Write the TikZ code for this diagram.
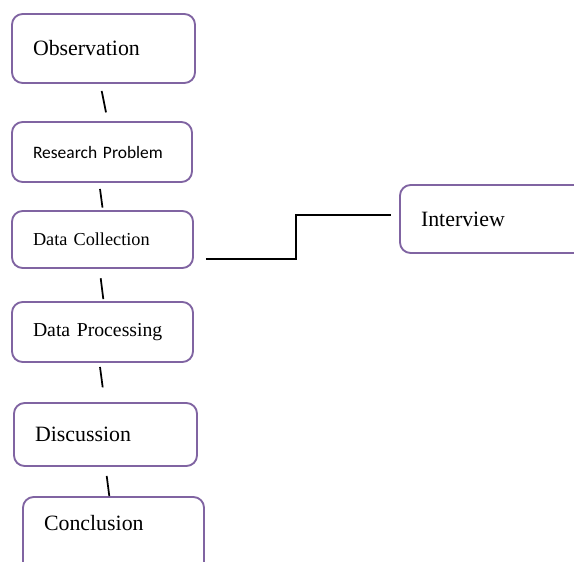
\documentclass[tikz,border=0pt]{standalone}
\usepackage{fontspec}
\setmainfont{Liberation Serif}
\newfontfamily\calibrifont{Carlito}
\usetikzlibrary{calc,positioning}
\definecolor{boxpurple}{RGB}{128,100,162}
\tikzset{
	stage/.style={draw=boxpurple, line width=1.4pt, rounded corners=8pt, fill=white, inner xsep=15.75pt, align=left, font=\fontsize{16.4}{19}\selectfont},
	link/.style={line width=1.3pt, black}
}
\begin{document}
\begin{tikzpicture}[x=0.75pt, y=-0.75pt]
					\fill[white] (0,0) rectangle (574,561);
					\useasboundingbox (0,0) rectangle (574,561);
					\node (obs) at (103.5,48.5) [stage, text width=105.75pt, minimum height=51.75pt] {Observation};
					\node (rp) at (102,152) [stage, text width=103.5pt, minimum height=45pt, font=\calibrifont\fontsize{13.1}{16}\selectfont] {Research Problem};
					\node (dc) at (102.5,239.5) [stage, text width=104.25pt, minimum height=42.75pt, font=\fontsize{13.7}{16}\selectfont] {Data Collection};
					\node (dp) at (102.5,332) [stage, text width=104.25pt, minimum height=45pt, font=\fontsize{14.8}{17}\selectfont] {Data Processing};
					\node (disc) at (105.5,434.5) [stage, text width=105.75pt, minimum height=47.25pt] {Discussion};
					\node (concl) at (113.5,536) [stage, text width=104.25pt, minimum height=58.5pt] {\raisebox{4.1pt}[0pt][0pt]{Conclusion}};
					\node (iv) at (501.5,219) [stage, text width=120.75pt, minimum height=51pt] {Interview};
					
					\draw[link] ($(obs.south)+(-1.8,7)$) -- ($(rp.north)+(4,-8.7)$);
					\draw[link] ($(rp.south)+(-2,6)$) -- ($(dc.north)+(0,-2.5)$);
					\draw[link] ($(dc.south)+(-1.8,9.3)$) -- ($(dp.north)+(0.8,-2)$);
					\draw[link] ($(dp.south)+(-2.5,4)$) -- ($(disc.north)+(-2.8,-14.7)$);
					\draw[link] ($(disc.south)+(1.2,9)$) -- ($(concl.north)+(-4.2,0)$);
					
					\coordinate (dcout) at ($(dc.east)+(12,19.5)$);
					\coordinate (ivin) at ($(iv.west)+(-8,-4)$);
					\coordinate (bend) at ($(ivin)+(-95,0)$);
					\draw[link] (dcout) -| (bend) -- (ivin);
\end{tikzpicture}
\end{document}
